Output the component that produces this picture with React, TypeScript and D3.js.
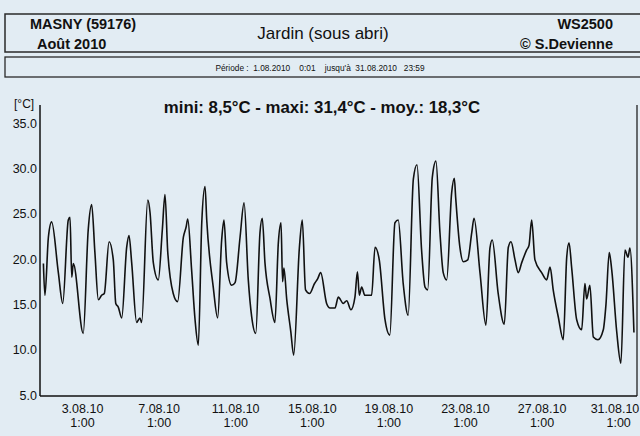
import { useEffect } from 'react'
import * as d3 from 'd3'

// day of month (fractional) and temperature
const dayOfMonth = [
  1.0, 1.08, 1.26, 1.43, 1.78, 2.01, 2.3, 2.39, 2.48, 2.56, 3.08, 3.34, 3.52, 3.69, 3.87,
  4.04, 4.18, 4.43, 4.65, 4.78, 4.91, 5.09, 5.35, 5.47, 5.61, 5.87, 6.04, 6.13, 6.45, 6.57,
  6.74, 7.0, 7.21, 7.35, 7.49, 7.78, 8.01, 8.31, 8.45, 8.54, 8.74, 8.92, 9.09, 9.27, 9.44,
  9.53, 9.87, 10.1, 10.31, 10.43, 10.57, 10.83, 11.01, 11.27, 11.48, 11.7, 11.88, 12.09, 12.31, 12.43,
  12.57, 12.83, 13.09, 13.27, 13.41, 13.49, 13.56, 13.71, 13.92, 14.07, 14.37, 14.52, 14.69, 14.9, 15.16,
  15.32, 15.48, 15.79, 15.97, 16.23, 16.4, 16.66, 16.84, 17.06, 17.27, 17.4, 17.5, 17.62, 17.79, 18.14,
  18.32, 18.54, 18.84, 19.09, 19.36, 19.53, 19.79, 20.05, 20.32, 20.51, 20.75, 20.93, 21.07, 21.31, 21.5,
  21.71, 21.88, 22.06, 22.32, 22.46, 22.53, 22.75, 22.93, 23.16, 23.37, 23.49, 23.8, 24.11, 24.32, 24.44,
  24.75, 25.07, 25.28, 25.42, 25.63, 25.8, 25.98, 26.24, 26.36, 26.5, 26.67, 27.02, 27.28, 27.46, 27.63,
  27.89, 28.15, 28.33, 28.45, 28.59, 28.85, 29.11, 29.28, 29.37, 29.54, 29.72, 29.96, 30.24, 30.38, 30.55,
  30.68, 30.94, 31.16, 31.37, 31.53, 31.63, 31.84
]
const tempC = [
  19.5, 16.0, 22.4, 24.1, 18.5, 15.1, 24.3, 24.6, 18.0, 19.5, 11.8, 23.2, 26.0, 20.7, 15.5,
  16.0, 16.2, 21.9, 19.9, 15.1, 14.7, 13.5, 21.3, 22.6, 19.6, 13.0, 13.5, 13.0, 26.5, 25.1,
  19.6, 17.7, 23.2, 27.1, 20.9, 16.2, 15.3, 22.4, 23.5, 24.4, 18.8, 13.3, 10.5, 24.0, 28.0,
  24.3, 16.9, 13.5, 22.1, 24.3, 19.6, 17.1, 17.4, 22.4, 26.2, 17.7, 13.6, 11.8, 22.9, 24.5,
  19.6, 15.7, 13.0, 21.8, 24.0, 17.5, 19.0, 15.5, 12.0, 9.4, 21.3, 24.3, 16.6, 16.2, 17.3,
  17.8, 18.5, 15.1, 14.6, 14.6, 15.8, 15.1, 15.4, 14.4, 15.8, 18.6, 16.0, 16.9, 16.0, 16.0,
  21.3, 19.9, 13.3, 11.6, 24.0, 24.3, 17.3, 13.8, 28.8, 30.4, 21.0, 16.9, 16.6, 29.0, 30.8,
  22.9, 18.5, 17.7, 27.3, 28.9, 26.8, 21.3, 19.7, 19.9, 22.9, 24.5, 18.5, 12.7, 21.2, 22.1,
  16.2, 12.8, 21.3, 21.9, 19.9, 18.5, 19.6, 21.0, 21.5, 24.3, 19.9, 18.5, 17.7, 19.1, 16.5,
  13.6, 11.1, 20.2, 21.8, 19.0, 13.3, 12.2, 17.3, 15.6, 17.1, 11.4, 11.1, 12.2, 15.0, 20.7,
  18.8, 12.0, 8.5, 21.0, 20.2, 21.2, 11.9
]

const yTicks = [5, 10, 15, 20, 25, 30, 35]
const xTickDays = [3, 7, 11, 15, 19, 23, 27, 31]

const FONT = '"Liberation Sans", Arial, sans-serif'

export default function App() {
  useEffect(() => {
    document.body.style.margin = '0'
  }, [])

  const width = 640
  const height = 436
  const x = d3.scaleLinear().domain([1, 32]).range([43.4, 637])
  const y = d3.scaleLinear().domain([5, 35]).range([395, 123])

  const points = dayOfMonth.map((d, i) => [d, tempC[i]] as [number, number])
  const line = d3.line<[number, number]>()
    .x(d => x(d[0]))
    .y(d => y(d[1]))
    .curve(d3.curveMonotoneX)

  return (
    <svg width={width} height={height} style={{ display: 'block', background: '#e2ecf3' }} fontFamily={FONT}>
      <rect x={0} y={0} width={width} height={height} fill="#e2ecf3" />

      {/* header boxes */}
      <rect x={5} y={14} width={650} height={38} fill="none" stroke="#2a2a2a" strokeWidth={1.5} />
      <rect x={5} y={57} width={650} height={20} fill="none" stroke="#2a2a2a" strokeWidth={1.3} />
      <text x={30} y={29} fontSize={14.5} fontWeight="bold" fill="#111">MASNY (59176)</text>
      <text x={37} y={49} fontSize={14.5} fontWeight="bold" fill="#111">Août  2010</text>
      <text x={323} y={39} fontSize={17} textAnchor="middle" fill="#111">Jardin (sous abri)</text>
      <text x={613} y={29} fontSize={14.5} fontWeight="bold" textAnchor="end" fill="#111">WS2500</text>
      <text x={613} y={49} fontSize={14.5} fontWeight="bold" textAnchor="end" fill="#111">© S.Devienne</text>
      <text x={320} y={71} fontSize={8.3} textAnchor="middle" fill="#111" xmlSpace="preserve">
        Période :  1.08.2010    0:01    jusqu'à  31.08.2010   23:59
      </text>

      {/* summary */}
      <text x={322} y={113} fontSize={16.8} fontWeight="bold" textAnchor="middle" fill="#111">
        mini: 8,5°C - maxi: 31,4°C - moy.: 18,3°C
      </text>

      {/* axes */}
      <text x={14} y={108} fontSize={12} fill="#111">[°C]</text>
      <line x1={40} y1={105} x2={40} y2={396} stroke="#111" strokeWidth={1.5} />
      <line x1={40} y1={396} x2={637} y2={396} stroke="#111" strokeWidth={1.5} />
      <line x1={637} y1={105} x2={637} y2={396} stroke="#111" strokeWidth={1.2} />
      {yTicks.map(t => (
        <text key={t} x={37} y={y(t)} dy="0.36em" fontSize={12.5} textAnchor="end" fill="#111">
          {t.toFixed(1)}
        </text>
      ))}
      {xTickDays.map(d => {
        const cx = x(d + 1 / 24)
        return (
          <g key={d}>
            <text x={Math.min(cx, 615)} y={413} fontSize={12.5} textAnchor="middle" fill="#111">{`${d}.08.10`}</text>
            <text x={cx} y={427} fontSize={12.5} textAnchor="middle" fill="#111">1:00</text>
          </g>
        )
      })}

      {/* temperature curve */}
      <path d={line(points) || ''} fill="none" stroke="#111" strokeWidth={1.6} strokeLinejoin="round" />
    </svg>
  )
}
